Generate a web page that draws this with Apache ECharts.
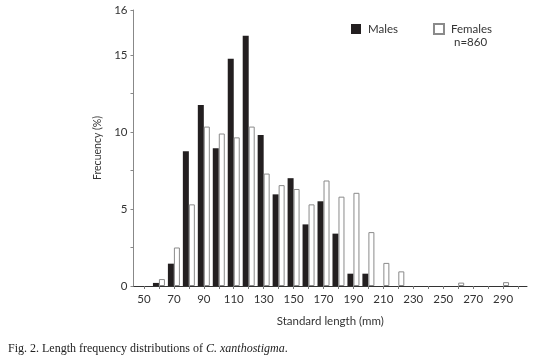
<!DOCTYPE html>
<html>
<head>
<meta charset="utf-8">
<script src="https://cdn.jsdelivr.net/npm/echarts@6/dist/echarts.min.js"></script>
<style>
html,body{margin:0;padding:0;background:#fff;}
#c{width:554px;height:362px;}
</style>
</head>
<body>
<div id="c"></div>
<script>
// Data (frequency %, by 10 mm standard-length class)
const maleBins   = [60, 70, 80, 90, 100, 110, 120, 130, 140, 150, 160, 170, 180, 190, 200];
const maleVals   = [0.2, 1.45, 8.75, 11.75, 8.95, 14.75, 16.25, 9.8, 5.95, 7.0, 4.0, 5.5, 3.4, 0.8, 0.8];
const femaleBins = [60, 70, 80, 90, 100, 110, 120, 130, 140, 150, 160, 170, 180, 190, 200, 210, 220, 260, 290];
const femaleVals = [0.45, 2.5, 5.3, 10.35, 9.9, 9.65, 10.35, 7.3, 6.55, 6.3, 5.3, 6.85, 5.8, 6.05, 3.5, 1.5, 0.95, 0.22, 0.25];

const xLabelValues = [50, 70, 90, 110, 130, 150, 170, 190, 210, 230, 250, 270, 290];
const xTickValues  = [50, 60, 70, 80, 90, 100, 110, 120, 130, 140, 150, 160, 170, 180, 190, 200, 210, 220, 230, 240, 250, 260, 270, 280, 290, 300];
const yTopValue = 17.92;               // axis top, labelled "16" in the original figure
const yLabelValues = [0, 5, 10, 15, yTopValue];
const yLabelTexts  = ['0', '5', '10', '15', '16'];
const yTickValues  = [0, 2.5, 5, 7.5, 10, 12.5, 15, yTopValue];

const FONT = 'Lato, "Noto Sans", sans-serif';
const SERIF = '"Liberation Serif", "DejaVu Serif", serif';
const chart = echarts.init(document.getElementById('c'), null, {renderer: 'canvas'});

chart.setOption({
  animation: false,
  backgroundColor: '#fff',
  grid: {left: 133.5, right: 27, top: 10, bottom: 76, containLabel: false},
  legend: {
    left: 346, top: 18,
    itemWidth: 10, itemHeight: 10, itemGap: 35,
    icon: 'rect',
    textStyle: {fontFamily: FONT, fontSize: 11.5, color: '#333', padding: [0, 0, 0, 2]},
    data: ['Males', 'Females']
  },
  xAxis: {
    type: 'value', min: 43, max: 306,
    name: 'Standard length (mm)', nameLocation: 'middle', nameGap: 29,
    nameTextStyle: {fontFamily: FONT, fontSize: 11.5, color: '#333'},
    axisLine: {show: true, lineStyle: {color: '#333', width: 1}},
    axisTick: {show: true, length: 3, customValues: xTickValues, lineStyle: {color: '#777'}},
    axisLabel: {customValues: xLabelValues, fontFamily: FONT, fontSize: 11.5, color: '#333', margin: 7},
    splitLine: {show: false}
  },
  yAxis: {
    type: 'value', min: 0, max: yTopValue,
    name: 'Frecuency (%)', nameLocation: 'middle', nameGap: 24, nameRotate: 90,
    nameTextStyle: {fontFamily: FONT, fontSize: 10.5, color: '#333'},
    axisLine: {show: true, lineStyle: {color: '#888', width: 1}},
    axisTick: {show: true, length: 3, customValues: yTickValues, lineStyle: {color: '#888'}},
    axisLabel: {
      customValues: yLabelValues, fontFamily: FONT, fontSize: 11.5, color: '#333', margin: 6,
      formatter: v => yLabelTexts[yLabelValues.indexOf(v)] ?? ''
    },
    splitLine: {show: false}
  },
  series: [
    {
      name: 'Males', type: 'bar', barWidth: 6, barGap: '0%',
      itemStyle: {color: '#231f20'},
      data: maleBins.map((b, i) => [b, maleVals[i]])
    },
    {
      name: 'Females', type: 'bar', barWidth: 6, barGap: '0%',
      itemStyle: {color: '#fff', borderColor: '#8a8a8a', borderWidth: 1},
      data: femaleBins.map((b, i) => [b, femaleVals[i]])
    }
  ],
  graphic: [
    {
      type: 'text', left: 454, top: 36,
      style: {text: 'n=860', fontFamily: FONT, fontSize: 11.5, fill: '#333'}
    },
    {
      type: 'text', left: 8, top: 343,
      style: {
        text: '{n|Fig. 2. Length frequency distributions of }{i|C. xanthostigma}{n|.}',
        font: '12px ' + SERIF,
        rich: {
          n: {fontFamily: SERIF, fontSize: 12, fill: '#222'},
          i: {fontFamily: SERIF, fontSize: 12, fontStyle: 'italic', fill: '#222'}
        }
      }
    }
  ]
});
</script>
</body>
</html>
